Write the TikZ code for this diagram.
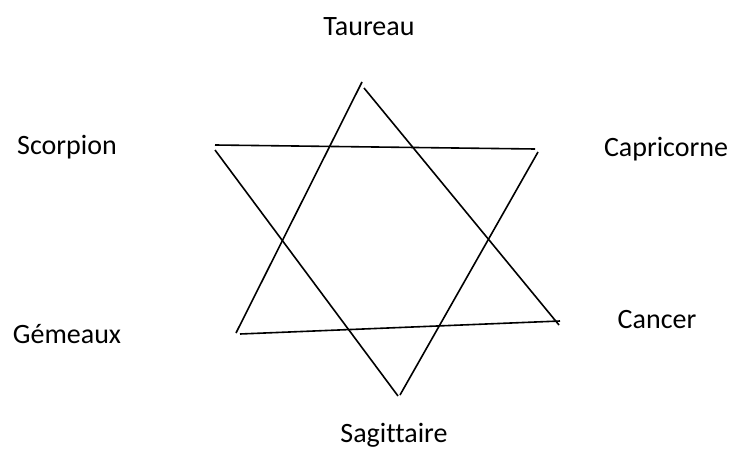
\documentclass[tikz,border=0pt]{standalone}
\usepackage{fontspec}
\setmainfont[Ligatures=NoCommon]{Carlito}
\begin{document}
\begin{tikzpicture}[x=1pt,y=-1pt,
  lbl/.style={anchor=base,inner sep=0pt,font=\fontsize{28}{32}\selectfont},
  edge/.style={line width=1.6pt,line cap=butt}]
\useasboundingbox (0,0) rectangle (735,449);
% labels
\node[lbl] (taureau) at (369,36) {Taureau};
\node[lbl] (scorpion) at (67,155) {Scorpion};
\node[lbl] (capricorne) at (666,157) {Capricorne};
\node[lbl] (gemeaux) at (67,343) {Gémeaux};
\node[lbl] (cancer) at (657,328) {Cancer};
\node[lbl] (sagittaire) at (394,442) {Sagittaire};
% endpoints
\coordinate (a1) at (362,82);
\coordinate (a2) at (236,333);
\coordinate (b1) at (364,88);
\coordinate (b2) at (559,325);
\coordinate (c1) at (215,145);
\coordinate (c2) at (535,149);
\coordinate (d1) at (215,150);
\coordinate (d2) at (398,396);
\coordinate (e1) at (538,152);
\coordinate (e2) at (400,395);
\coordinate (f1) at (240,334);
\coordinate (f2) at (560,321);
\draw[edge] (a1) -- (a2);
\draw[edge] (b1) -- (b2);
\draw[edge] (c1) -- (c2);
\draw[edge] (d1) -- (d2);
\draw[edge] (e1) -- (e2);
\draw[edge] (f1) -- (f2);
\end{tikzpicture}
\end{document}
